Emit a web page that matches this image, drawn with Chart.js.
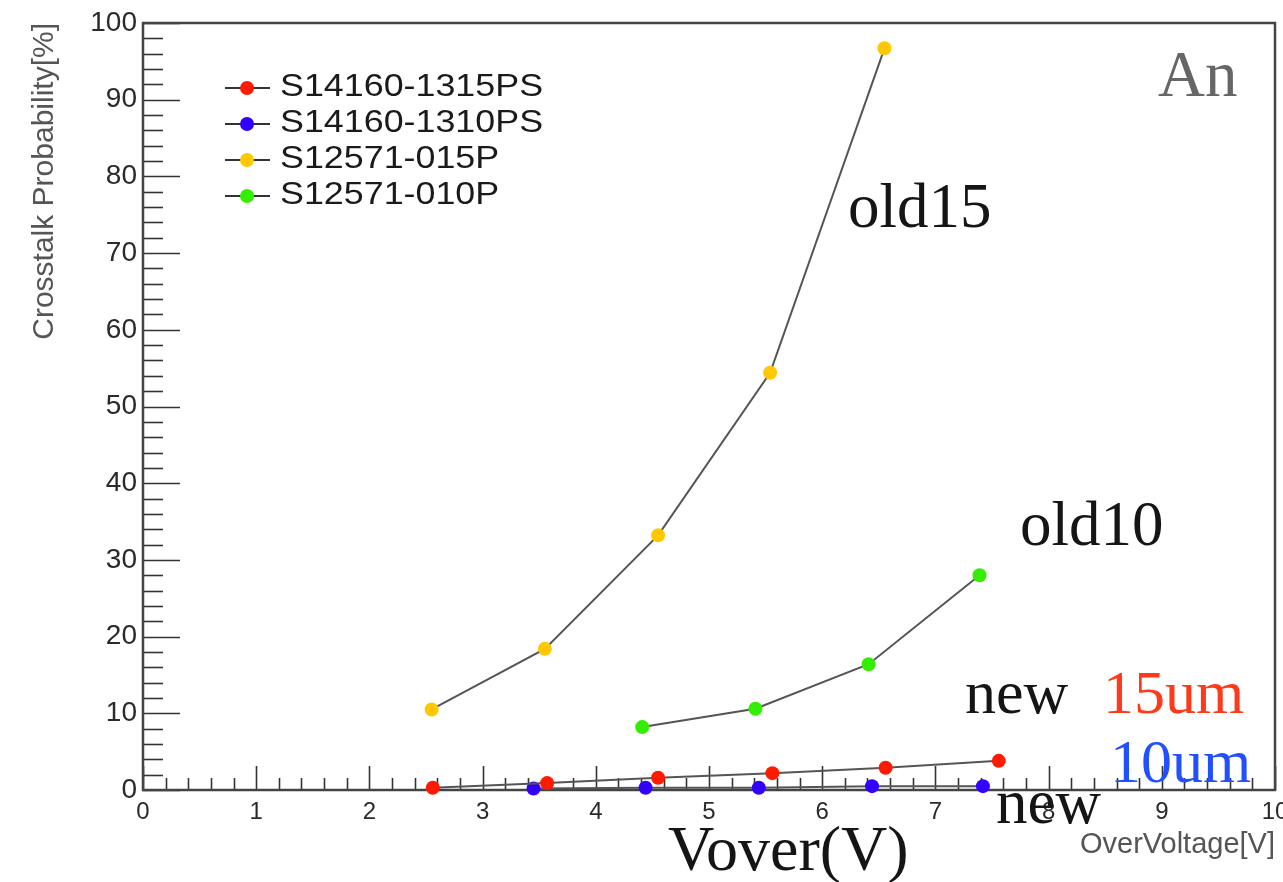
<!DOCTYPE html>
<html>
<head>
<meta charset="utf-8">
<title>Crosstalk Probability vs OverVoltage</title>
<script src="https://cdn.jsdelivr.net/npm/chart.js@4.4.1/dist/chart.umd.min.js"></script>
<style>
  html, body { margin: 0; padding: 0; background: #fff; }
</style>
</head>
<body>
<canvas id="xtalkChart" width="1283" height="882"></canvas>
<script>
// legend names and marker colours
const seriesNames = ['S14160-1315PS', 'S14160-1310PS', 'S12571-015P', 'S12571-010P'];
const seriesColors = ['#ff1a00', '#3300ff', '#ffc800', '#33ee00'];

// overvoltage [V] / crosstalk probability [%]
const vNew15 = [2.56, 3.57, 4.55, 5.56, 6.56, 7.56];
const xtNew15 = [0.3, 0.9, 1.6, 2.2, 2.9, 3.8];
const vNew10 = [3.45, 4.44, 5.44, 6.44, 7.42];
const xtNew10 = [0.2, 0.3, 0.3, 0.5, 0.5];
const vOld15 = [2.55, 3.55, 4.55, 5.54, 6.55];
const xtOld15 = [10.5, 18.4, 33.2, 54.4, 96.7];
const vOld10 = [4.41, 5.41, 6.41, 7.39];
const xtOld10 = [8.2, 10.6, 16.4, 28.0];

// axis ranges
const xRange = [0, 10];
const yRange = [0, 100];

const SANS = '"Liberation Sans", Arial, sans-serif';
const SERIF = '"Liberation Serif", "Times New Roman", serif';

function toPoints(xs, ys) {
    return xs.map((v, i) => ({ x: v, y: ys[i] }));
}

const allX = [vNew15, vNew10, vOld15, vOld10];
const allY = [xtNew15, xtNew10, xtOld15, xtOld10];

const datasets = seriesNames.map((name, i) => ({
    label: name,
    data: toPoints(allX[i], allY[i]),
    showLine: true,
    borderColor: '#555',
    borderWidth: 2,
    pointRadius: 7,
    pointHoverRadius: 7,
    pointBackgroundColor: seriesColors[i],
    pointBorderColor: seriesColors[i],
    pointBorderWidth: 0,
    clip: false
}));

// hand-written text on the picture
const notes = [
    { text: 'old15', x: 848, y: 227, size: 63, color: '#151515' },
    { text: 'old10', x: 1020, y: 545, size: 63, color: '#151515' },
    { text: 'new', x: 965, y: 713, size: 62, color: '#151515' },
    { text: '15um', x: 1103, y: 713, size: 62, color: '#ff3a1a' },
    { text: '10um', x: 1110, y: 782, size: 62, color: '#2050ff' },
    { text: 'new', x: 996, y: 823, size: 63, color: '#151515' },
    { text: 'Vover(V)', x: 668, y: 870, size: 64, color: '#151515' },
    { text: 'An', x: 1158, y: 96, size: 65, color: '#666' }
];

// ROOT style frame with inward ticks
const rootFrame = {
    id: 'rootFrame',
    beforeDatasetsDraw(chart) {
        const { ctx, chartArea: a, scales: { x, y } } = chart;
        ctx.save();
        ctx.strokeStyle = '#333';
        ctx.lineWidth = 1.6;
        for (let v = yRange[0]; v <= yRange[1]; v += 2) {
            const py = Math.round(y.getPixelForValue(v)) + 0.5;
            const len = v % 10 === 0 ? 37 : 20;
            ctx.beginPath();
            ctx.moveTo(a.left, py);
            ctx.lineTo(a.left + len, py);
            ctx.stroke();
        }
        for (let k = 0; k <= 50; k++) {
            const px = Math.round(x.getPixelForValue(k / 5)) + 0.5;
            const len = k % 5 === 0 ? 24 : 12;
            ctx.beginPath();
            ctx.moveTo(px, a.bottom);
            ctx.lineTo(px, a.bottom - len);
            ctx.stroke();
        }
        ctx.lineWidth = 2.5;
        ctx.strokeStyle = '#444';
        ctx.strokeRect(a.left, a.top, a.right - a.left, a.bottom - a.top);
        ctx.restore();
    },
    afterDatasetsDraw(chart) {
        const { ctx } = chart;
        ctx.save();
        const rows = [88, 124, 160, 196];
        chart.data.datasets.forEach((ds, i) => {
            const cy = rows[i];
            ctx.strokeStyle = '#333';
            ctx.lineWidth = 2;
            ctx.beginPath();
            ctx.moveTo(225, cy);
            ctx.lineTo(270, cy);
            ctx.stroke();
            ctx.fillStyle = ds.pointBackgroundColor;
            ctx.beginPath();
            ctx.arc(247, cy, 7, 0, Math.PI * 2);
            ctx.fill();
            ctx.save();
            ctx.translate(280, cy + 8);
            ctx.scale(1.12, 1);
            ctx.fillStyle = '#1a1a1a';
            ctx.font = '32px ' + SANS;
            ctx.textBaseline = 'alphabetic';
            ctx.fillText(ds.label, 0, 0);
            ctx.restore();
        });
        ctx.restore();
    },
    afterDraw(chart) {
        const { ctx } = chart;
        ctx.save();
        ctx.textBaseline = 'alphabetic';
        notes.forEach(n => {
            ctx.font = n.size + 'px ' + SERIF;
            ctx.fillStyle = n.color;
            ctx.fillText(n.text, n.x, n.y);
        });
        ctx.restore();
    }
};

const chartConfig = {
    type: 'scatter',
    data: { datasets: datasets },
    options: {
        responsive: false,
        animation: false,
        events: [],
        layout: { padding: { left: 0, top: 23, right: 8, bottom: 0 } },
        plugins: {
            legend: { display: false },
            tooltip: { enabled: false }
        },
        scales: {
            x: {
                type: 'linear',
                min: xRange[0],
                max: xRange[1],
                grid: { display: false, drawTicks: false },
                border: { display: false },
                ticks: {
                    stepSize: 1,
                    padding: 8,
                    color: '#2a2a2a',
                    font: { family: SANS, size: 24 }
                },
                title: {
                    display: true,
                    text: 'OverVoltage[V]',
                    align: 'end',
                    color: '#555',
                    font: { family: SANS, size: 29 },
                    padding: { top: 0, bottom: 20 }
                },
                afterFit(scale) {
                    scale.height = 92;
                    scale.paddingRight = 0;
                    scale.paddingLeft = 0;
                }
            },
            y: {
                type: 'linear',
                min: yRange[0],
                max: yRange[1],
                grid: { display: false, drawTicks: false },
                border: { display: false },
                ticks: {
                    stepSize: 10,
                    padding: 6,
                    color: '#2a2a2a',
                    font: { family: SANS, size: 28 }
                },
                title: {
                    display: true,
                    text: 'Crosstalk Probability[%]',
                    align: 'end',
                    color: '#555',
                    font: { family: SANS, size: 30 },
                    padding: { top: 27, bottom: 0 }
                },
                afterFit(scale) {
                    scale.width = 143;
                }
            }
        }
    },
    plugins: [rootFrame]
};

const ctx = document.getElementById('xtalkChart').getContext('2d');
new Chart(ctx, chartConfig);
</script>
</body>
</html>
